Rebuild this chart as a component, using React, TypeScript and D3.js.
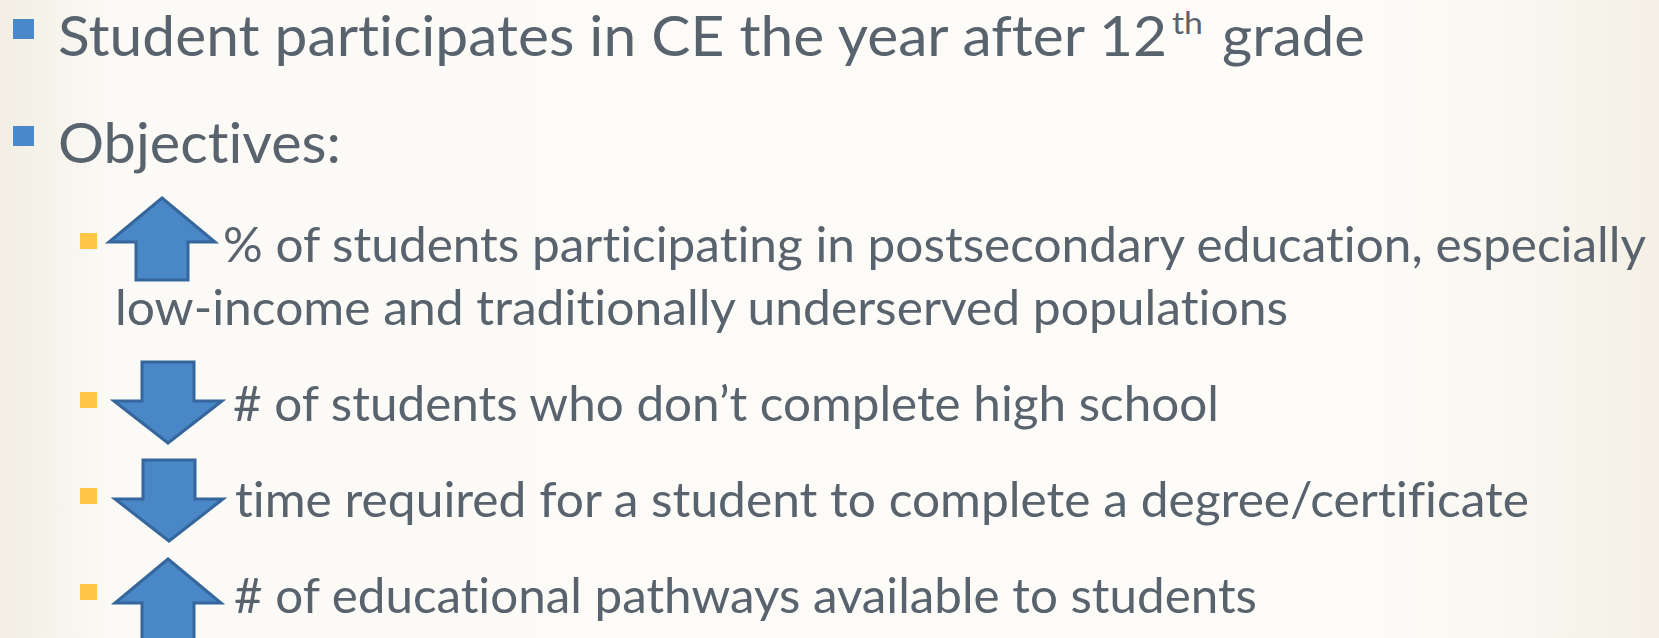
import React from "react";
import * as d3 from "d3";

// ---- content ----
const headingTexts = ["Student participates in CE the year after 12", "Objectives:"];
const headingSuperscript = "th";
const headingSuffix = "grade";
const objectiveDirections = ["up", "down", "down", "up"];
const objectiveLines = [
  ["% of students participating in postsecondary education, especially", "low-income and traditionally underserved populations"],
  ["# of students who don\u2019t complete high school"],
  ["time required for a student to complete a degree/certificate"],
  ["# of educational pathways available to students"],
];

// ---- layout ----
const W = 1659;
const H = 638;
const FONT = "Lato, 'Open Sans', sans-serif";
const TEXT_COLOR = "#59636e";
const BLUE = "#4a87c6";
const BLUE_STROKE = "#35669c";
const YELLOW = "#fdc745";

// measured extents of text lines (start x, end x)
const headingExtents = [[58, 1167], [58, 341]];
const supExtent = [1172, 1203];
const suffixExtent = [1222, 1365];
const objectiveExtents = [
  [[223, 1646], [115, 1288]],
  [[233, 1219]],
  [[235, 1529]],
  [[234, 1257]],
];
const arrowCenters = [162, 168, 169, 168];
const arrowTopOffsets = [-64, -59, -57, -54]; // from item baseline

export default function App() {
  const headY = d3.scaleLinear().domain([0, 1]).range([56, 163]);
  const itemStep = d3.scaleLinear().domain([0, 1]).range([0, 96]);
  const lineStep = d3.scaleLinear().domain([0, 1]).range([0, 63]);

  const baselines: number[] = [];
  let extra = 0;
  objectiveLines.forEach((lines, i) => {
    baselines.push(262 + itemStep(i) + lineStep(extra));
    extra += lines.length - 1;
  });

  const upArrow = (cx: number, top: number) => {
    const p = d3.path();
    p.moveTo(cx, top);
    p.lineTo(cx + 53, top + 44);
    p.lineTo(cx + 26, top + 44);
    p.lineTo(cx + 26, top + 82);
    p.lineTo(cx - 26, top + 82);
    p.lineTo(cx - 26, top + 44);
    p.lineTo(cx - 53, top + 44);
    p.closePath();
    return p.toString();
  };
  const downArrow = (cx: number, top: number) => {
    const p = d3.path();
    p.moveTo(cx - 26, top);
    p.lineTo(cx + 26, top);
    p.lineTo(cx + 26, top + 39);
    p.lineTo(cx + 54, top + 39);
    p.lineTo(cx, top + 81);
    p.lineTo(cx - 54, top + 39);
    p.lineTo(cx - 26, top + 39);
    p.closePath();
    return p.toString();
  };

  const textStyle = { fontVariantLigatures: "none", fontFeatureSettings: "'liga' 0, 'clig' 0" } as React.CSSProperties;

  return (
    <svg
      width={W}
      height={H}
      style={{ position: "absolute", left: 0, top: 0, display: "block" }}
      fontFamily={FONT}
    >
      <defs>
        <linearGradient id="bgH" x1="0" x2="1" y1="0" y2="0">
          <stop offset="0" stopColor="#f2eee3" />
          <stop offset="0.07" stopColor="#fbfaf6" />
          <stop offset="0.8" stopColor="#fdfcf9" />
          <stop offset="0.9" stopColor="#faf8f2" />
          <stop offset="1" stopColor="#f4f0e6" />
        </linearGradient>
      </defs>
      <rect x={0} y={0} width={W} height={H} fill="url(#bgH)" />

      {/* headings */}
      {headingTexts.map((t, i) => (
        <g key={"h" + i}>
          <rect x={13} y={headY(i) - 37} width={21} height={20} fill="#4a89c9" />
          <text
            x={headingExtents[i][0]}
            y={headY(i)}
            fontSize={56}
            fill={TEXT_COLOR}
            style={textStyle}
            textLength={headingExtents[i][1] - headingExtents[i][0]}
            lengthAdjust="spacingAndGlyphs"
          >
            {t}
          </text>
        </g>
      ))}
      <text
        x={supExtent[0]}
        y={headY(0) - 22}
        fontSize={31}
        fill={TEXT_COLOR}
        style={textStyle}
        textLength={supExtent[1] - supExtent[0]}
        lengthAdjust="spacingAndGlyphs"
      >
        {headingSuperscript}
      </text>
      <text
        x={suffixExtent[0]}
        y={headY(0)}
        fontSize={56}
        fill={TEXT_COLOR}
        style={textStyle}
        textLength={suffixExtent[1] - suffixExtent[0]}
        lengthAdjust="spacingAndGlyphs"
      >
        {headingSuffix}
      </text>

      {/* objectives */}
      {objectiveLines.map((lines, i) => {
        const by = baselines[i];
        const cx = arrowCenters[i];
        const top = by + arrowTopOffsets[i];
        return (
          <g key={"o" + i}>
            <rect x={80} y={by - 29} width={17} height={16} fill={YELLOW} />
            <path
              d={objectiveDirections[i] === "up" ? upArrow(cx, top) : downArrow(cx, top)}
              fill={BLUE}
              stroke={BLUE_STROKE}
              strokeWidth={3}
              strokeLinejoin="miter"
            />
            {lines.map((ln, j) => (
              <text
                key={j}
                x={objectiveExtents[i][j][0]}
                y={by + lineStep(j)}
                fontSize={48}
                fill={TEXT_COLOR}
                style={textStyle}
                textLength={objectiveExtents[i][j][1] - objectiveExtents[i][j][0]}
                lengthAdjust="spacingAndGlyphs"
              >
                {ln}
              </text>
            ))}
          </g>
        );
      })}
    </svg>
  );
}
